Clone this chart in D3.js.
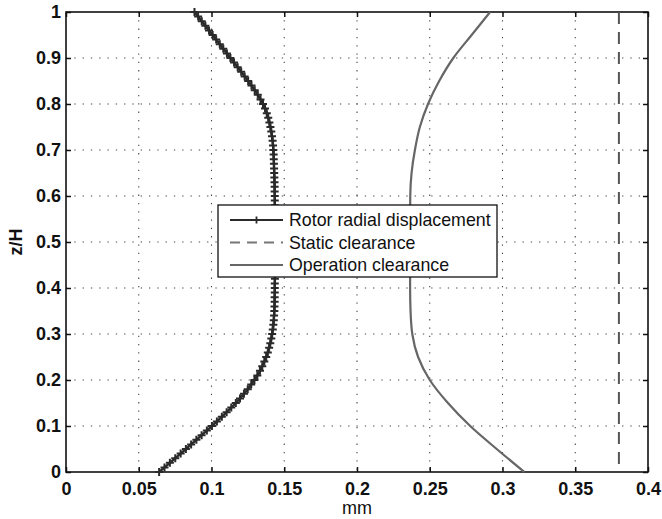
<!DOCTYPE html>
<html>
<head>
<meta charset="utf-8">
<script src="https://cdn.jsdelivr.net/npm/d3@7"></script>
<style>
  body { margin: 0; background: #fff; }
  svg { font-family: "Liberation Sans", Arial, sans-serif; }
  .tick text { font-size: 18px; font-weight: bold; fill: #111; }
  .grid line { stroke: #444; stroke-width: 1.1; stroke-dasharray: 1.3, 7; }
</style>
</head>
<body>
<div id="chart"></div>
<script>
// z/H levels for the rotor curve (step 0.01)
var zRotor = d3.range(0, 101).map(i => i / 100);

// Rotor radial displacement (mm)
var rotorDisp = [
  0.0640, 0.0677, 0.0714, 0.0751, 0.0788, 0.0824, 0.0860, 0.0896, 0.0932, 0.0968,
  0.1003, 0.1037, 0.1071, 0.1104, 0.1136, 0.1167, 0.1196, 0.1223, 0.1249, 0.1273,
  0.1295, 0.1315, 0.1333, 0.1349, 0.1363, 0.1376, 0.1387, 0.1396, 0.1404, 0.1411,
  0.1417, 0.1421, 0.1425, 0.1428, 0.1430, 0.1432, 0.1433, 0.1434, 0.1434, 0.1435,
  0.1435, 0.1435, 0.1436, 0.1436, 0.1436, 0.1436, 0.1436, 0.1436, 0.1436, 0.1436,
  0.1436, 0.1436, 0.1436, 0.1436, 0.1436, 0.1436, 0.1436, 0.1436, 0.1435, 0.1435,
  0.1435, 0.1434, 0.1434, 0.1433, 0.1432, 0.1431, 0.1430, 0.1429, 0.1428, 0.1427,
  0.1425, 0.1423, 0.1420, 0.1416, 0.1411, 0.1405, 0.1398, 0.1390, 0.1380, 0.1368,
  0.1354, 0.1337, 0.1318, 0.1297, 0.1275, 0.1252, 0.1228, 0.1204, 0.1180, 0.1155,
  0.1130, 0.1106, 0.1081, 0.1057, 0.1032, 0.1008, 0.0983, 0.0958, 0.0933, 0.0908,
  0.0883
];

// Operation clearance (mm)
var zOper = [0, 0.05, 0.1, 0.15, 0.2, 0.25, 0.3, 0.35, 0.4, 0.45, 0.5,
             0.55, 0.6, 0.65, 0.7, 0.75, 0.8, 0.85, 0.9, 0.95, 1];
var operClear = [0.3150, 0.2960, 0.2778, 0.2625, 0.2500, 0.2420, 0.2380, 0.2368, 0.2365, 0.2365, 0.2365,
                 0.2365, 0.2366, 0.2375, 0.2398, 0.2432, 0.2488, 0.2565, 0.2662, 0.2788, 0.2915];

// Static clearance (mm)
var staticClear = 0.38;

var xTicks = [0, 0.05, 0.1, 0.15, 0.2, 0.25, 0.3, 0.35, 0.4];
var yTicks = [0, 0.1, 0.2, 0.3, 0.4, 0.5, 0.6, 0.7, 0.8, 0.9, 1];

var legendLabels = ["Rotor radial displacement", "Static clearance", "Operation clearance"];

var svgWidth = 662;
var svgHeight = 519;
var margin = { top: 12, right: 14, bottom: 47, left: 66 };
var width = svgWidth - margin.left - margin.right;
var height = svgHeight - margin.top - margin.bottom;

var svg = d3.select("#chart")
  .append("svg")
  .attr("width", svgWidth)
  .attr("height", svgHeight);

var chartGroup = svg.append("g")
  .attr("transform", `translate(${margin.left}, ${margin.top})`);

var x = d3.scaleLinear().domain([0, 0.4]).range([0, width]);
var y = d3.scaleLinear().domain([0, 1]).range([height, 0]);

// grid
var grid = chartGroup.append("g").attr("class", "grid");
grid.selectAll(".gx")
  .data(xTicks.slice(1, -1))
  .enter().append("line")
  .attr("x1", d => x(d)).attr("x2", d => x(d))
  .attr("y1", 0).attr("y2", height);
grid.selectAll(".gy")
  .data(yTicks.slice(1, -1))
  .enter().append("line")
  .attr("y1", d => y(d)).attr("y2", d => y(d))
  .attr("x1", 0).attr("x2", width);

// axes with inward ticks (matlab style)
var fmt = d => d3.format("")(d);
var bottomAxis = d3.axisBottom(x).tickValues(xTicks).tickFormat(fmt).tickSizeInner(-5).tickSizeOuter(0).tickPadding(10);
var leftAxis = d3.axisLeft(y).tickValues(yTicks).tickFormat(fmt).tickSizeInner(-5).tickSizeOuter(0).tickPadding(5);
var topAxis = d3.axisTop(x).tickValues(xTicks).tickFormat("").tickSizeInner(-5).tickSizeOuter(0);
var rightAxis = d3.axisRight(y).tickValues(yTicks).tickFormat("").tickSizeInner(-5).tickSizeOuter(0);

[
  chartGroup.append("g").attr("transform", `translate(0, ${height})`).call(bottomAxis),
  chartGroup.append("g").call(leftAxis),
  chartGroup.append("g").call(topAxis),
  chartGroup.append("g").attr("transform", `translate(${width}, 0)`).call(rightAxis)
].forEach(function(g) {
  g.select(".domain").remove();
  g.selectAll(".tick line").attr("stroke", "#111").attr("stroke-width", 1.5);
});

chartGroup.append("rect")
  .attr("width", width)
  .attr("height", height)
  .attr("fill", "none")
  .attr("stroke", "#111")
  .attr("stroke-width", 1.6);

// static clearance
chartGroup.append("line")
  .attr("x1", x(staticClear)).attr("x2", x(staticClear))
  .attr("y1", y(1)).attr("y2", y(0))
  .attr("stroke", "#555")
  .attr("stroke-width", 2)
  .attr("stroke-dasharray", "12,8");

// operation clearance
var operLine = d3.line()
  .x(d => x(d[1]))
  .y(d => y(d[0]))
  .curve(d3.curveMonotoneY);
chartGroup.append("path")
  .datum(zOper.map((z, i) => [z, operClear[i]]))
  .attr("d", operLine)
  .attr("fill", "none")
  .attr("stroke", "#666")
  .attr("stroke-width", 2.2);

// rotor displacement with + markers
var rotorData = zRotor.map((z, i) => [z, rotorDisp[i]]);
var rotorLine = d3.line().x(d => x(d[1])).y(d => y(d[0]));
chartGroup.append("path")
  .datum(rotorData)
  .attr("d", rotorLine)
  .attr("fill", "none")
  .attr("stroke", "#2a2a2a")
  .attr("stroke-width", 2.4);

var plusPath = "M-4,0H4M0,-4V4";
chartGroup.selectAll(".marker")
  .data(rotorData)
  .enter().append("path")
  .attr("class", "marker")
  .attr("transform", d => `translate(${x(d[1])}, ${y(d[0])})`)
  .attr("d", plusPath)
  .attr("stroke", "#2a2a2a")
  .attr("stroke-width", 2);

// axis labels
svg.append("text")
  .attr("x", margin.left + width / 2)
  .attr("y", 514)
  .attr("text-anchor", "middle")
  .style("font-size", "18px")
  .attr("fill", "#111")
  .text("mm");

svg.append("text")
  .attr("transform", `translate(22, ${margin.top + height / 2}) rotate(-90)`)
  .attr("text-anchor", "middle")
  .style("font-size", "18px")
  .style("font-weight", "bold")
  .attr("fill", "#111")
  .text("z/H");

// legend
var legend = svg.append("g").attr("transform", "translate(218, 205)");
legend.append("rect")
  .attr("width", 279)
  .attr("height", 72)
  .attr("fill", "#fff")
  .attr("stroke", "#111")
  .attr("stroke-width", 1.3);

var rows = legend.selectAll(".row")
  .data(legendLabels)
  .enter().append("g")
  .attr("transform", (d, i) => `translate(0, ${15 + i * 22.5})`);

rows.append("line")
  .attr("x1", 12).attr("x2", 65)
  .attr("stroke", (d, i) => ["#2a2a2a", "#777", "#666"][i])
  .attr("stroke-width", 2.2)
  .attr("stroke-dasharray", (d, i) => i === 1 ? "10,7" : null);

legend.append("path")
  .attr("transform", "translate(38.5, 15)")
  .attr("d", "M-3.5,0H3.5M0,-3.5V3.5")
  .attr("stroke", "#2a2a2a")
  .attr("stroke-width", 1.8);

rows.append("text")
  .attr("x", 71)
  .attr("dy", "0.35em")
  .style("font-size", "17.8px")
  .attr("fill", "#111")
  .text(d => d);
</script>
</body>
</html>
